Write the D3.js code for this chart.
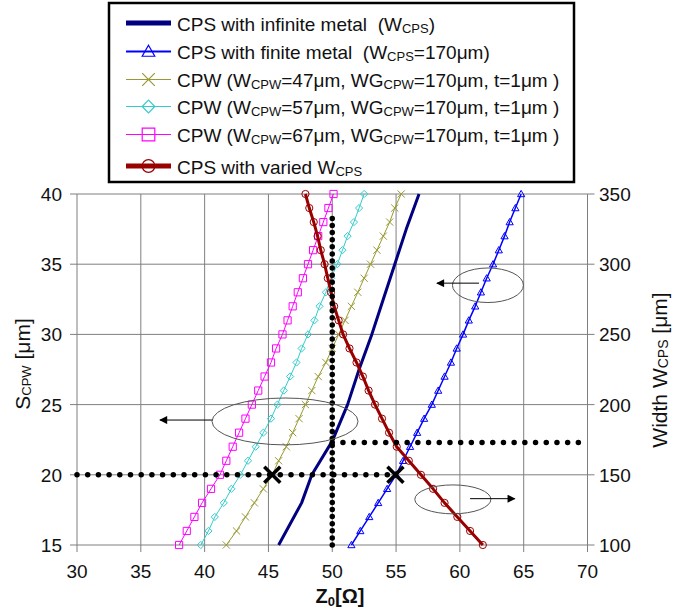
<!DOCTYPE html>
<html>
<head>
<meta charset="utf-8">
<script src="https://cdn.jsdelivr.net/npm/d3@7"></script>
<style>
  html, body { margin: 0; padding: 0; background: #fff; }
  svg { display: block; font-family: "Liberation Sans", Arial, sans-serif; }
</style>
</head>
<body>
<div id="chart"></div>
<script>
// S_CPW values (left axis) where the CPW / finite-metal curves were sampled
const sValues = d3.range(15, 41);

// Z0 [Ohm] for each series
const finiteMetalZ = [51.5, 52.2, 52.9, 53.6, 54.3, 55.0, 55.55, 56.1, 56.65, 57.2, 57.8, 58.3, 58.8,
  59.3, 59.75, 60.25, 60.7, 61.2, 61.65, 62.1, 62.6, 63.05, 63.5, 63.9, 64.35, 64.8];
const cpw47Z = [41.7, 42.5, 43.2, 43.9, 44.6, 45.3, 45.8, 46.4, 46.9, 47.4, 47.9, 48.4, 48.9,
  49.5, 50.0, 50.5, 51.0, 51.5, 52.0, 52.5, 53.0, 53.5, 54.0, 54.5, 54.9, 55.4];
const cpw57Z = [39.7, 40.3, 40.8, 41.5, 42.1, 42.8, 43.4, 44.0, 44.6, 45.2, 45.7, 46.2, 46.7,
  47.2, 47.6, 48.1, 48.6, 49.0, 49.5, 49.9, 50.4, 50.8, 51.2, 51.7, 52.1, 52.5];
const cpw67Z = [38.0, 38.6, 39.2, 39.8, 40.5, 41.2, 41.7, 42.2, 42.7, 43.2, 43.7, 44.2, 44.7,
  45.2, 45.6, 46.1, 46.5, 46.9, 47.3, 47.7, 48.1, 48.5, 48.9, 49.3, 49.7, 50.1];

// infinite metal curve (no markers)
const infiniteS = [15, 18, 20, 22.4, 25, 27.5, 30, 32.5, 35, 37.5, 40];
const infiniteZ = [45.8, 47.6, 48.4, 50.0, 51.2, 52.1, 53.1, 54.0, 54.9, 55.8, 56.8];

// varied W_CPS curve (right axis)
const widthValues = d3.range(100, 351, 10);
const variedZ = [61.8, 60.8, 59.8, 58.8, 57.9, 56.95, 56.0, 55.05, 54.45, 53.9, 53.35, 52.85, 52.4,
  51.9, 51.35, 50.85, 50.5, 50.15, 49.9, 49.65, 49.4, 49.1, 48.85, 48.55, 48.2, 47.9];

const xTicks = d3.range(30, 71, 5);
const yTicks = d3.range(15, 41, 5);
const y2Ticks = d3.range(100, 351, 50);

// dotted guide lines
const guideH1 = { z: [30, 55], s: 20 };
const guideV = { z: 50, s: [15, 38.5] };
const guideH2 = { z: [50, 69.3], w: 173 };
const crossPoints = [[45.3, 20], [54.95, 20]];

// ellipses + arrows: [centerZ, centerS, radiusZ, radiusS]
const ellipses = [[62.2, 33.5, 2.78, 1.23], [46.3, 23.8, 5.72, 1.67], [59.45, 18.25, 2.98, 1.03]];
const arrows = [[61.5, 58.2, 33.65], [40.6, 36.5, 23.9], [60.8, 64.3, 18.3]];

const width = 690, height = 612;
const svg = d3.select('#chart').append('svg').attr('width', width).attr('height', height);

const x = d3.scaleLinear().domain([30, 70]).range([77, 587.5]);
const y = d3.scaleLinear().domain([15, 40]).range([545, 194]);
const y2 = d3.scaleLinear().domain([100, 350]).range([545, 194]);

const gridColor = '#7f7f7f';

// grid
svg.append('g').selectAll('line.vgrid').data(xTicks).join('line')
  .attr('x1', d => x(d)).attr('x2', d => x(d)).attr('y1', y(40)).attr('y2', y(15) + 7)
  .attr('stroke', gridColor).attr('stroke-width', 1);
svg.append('g').selectAll('line.hgrid').data(yTicks).join('line')
  .attr('x1', x(30) - 7).attr('x2', x(70) + 7).attr('y1', d => y(d)).attr('y2', d => y(d))
  .attr('stroke', gridColor).attr('stroke-width', 1);

// tick labels
svg.append('g').selectAll('text').data(xTicks).join('text')
  .attr('x', d => x(d)).attr('y', 578).attr('text-anchor', 'middle')
  .attr('font-size', 19).attr('fill', '#111').text(d => d);
svg.append('g').selectAll('text').data(yTicks).join('text')
  .attr('x', 62).attr('y', d => y(d) + 7).attr('text-anchor', 'end')
  .attr('font-size', 19).attr('fill', '#111').text(d => d);
svg.append('g').selectAll('text').data(y2Ticks).join('text')
  .attr('x', 599).attr('y', d => y2(d) + 7).attr('text-anchor', 'start')
  .attr('font-size', 19).attr('fill', '#111').text(d => d);

// axis titles
const leftTitle = svg.append('text').attr('transform', 'translate(30,364) rotate(-90)')
  .attr('text-anchor', 'middle').attr('font-size', 21).attr('fill', '#111');
leftTitle.append('tspan').text('S');
leftTitle.append('tspan').attr('font-size', 13).attr('dy', 1).text('CPW');
leftTitle.append('tspan').attr('dy', -1).text(' [μm]');

const rightTitle = svg.append('text').attr('transform', 'translate(667,370) rotate(-90)')
  .attr('text-anchor', 'middle').attr('font-size', 21).attr('fill', '#111');
rightTitle.append('tspan').text('Width W');
rightTitle.append('tspan').attr('font-size', 14).attr('dy', 1).text('CPS');
rightTitle.append('tspan').attr('dy', -1).text(' [μm]');

const xTitle = svg.append('text').attr('x', 340).attr('y', 603).attr('text-anchor', 'middle')
  .attr('font-size', 20).attr('font-weight', 'bold').attr('fill', '#111');
xTitle.append('tspan').text('Z');
xTitle.append('tspan').attr('font-size', 13).attr('dy', 3).text('0');
xTitle.append('tspan').attr('dy', -3).text('[Ω]');

// marker shapes
function markerPath(type, s) {
  if (type === 'triangle') return `M0,${-s}L${s},${s * 0.75}L${-s},${s * 0.75}Z`;
  if (type === 'diamond') return `M0,${-s}L${s},0L0,${s}L${-s},0Z`;
  if (type === 'square') return `M${-s},${-s}H${s}V${s}H${-s}Z`;
  if (type === 'x') return `M${-s},${-s}L${s},${s}M${-s},${s}L${s},${-s}`;
  if (type === 'circle') return d3.symbol(d3.symbolCircle, Math.PI * s * s)();
  return null;
}

const series = [
  { label: 'infinite', color: '#000080', width: 3, marker: null, pts: infiniteS.map((s, i) => [infiniteZ[i], y(s)]) },
  { label: 'finite', color: '#0000ff', width: 1.5, marker: 'triangle', pts: sValues.map((s, i) => [finiteMetalZ[i], y(s)]) },
  { label: 'cpw47', color: '#999933', width: 1, marker: 'x', pts: sValues.map((s, i) => [cpw47Z[i], y(s)]) },
  { label: 'cpw57', color: '#33cccc', width: 1, marker: 'diamond', pts: sValues.map((s, i) => [cpw57Z[i], y(s)]) },
  { label: 'cpw67', color: '#ff00ff', width: 1, marker: 'square', pts: sValues.map((s, i) => [cpw67Z[i], y(s)]) },
  { label: 'varied', color: '#990000', width: 3, marker: 'circle', pts: widthValues.map((w, i) => [variedZ[i], y2(w)]) }
];

const line = d3.line().x(d => x(d[0])).y(d => d[1]);

const plot = svg.append('g');
series.forEach(sr => {
  const g = plot.append('g').attr('class', `series ${sr.label}`);
  g.append('path').datum(sr.pts).attr('d', line)
    .attr('fill', 'none').attr('stroke', sr.color).attr('stroke-width', sr.width)
    .attr('stroke-linejoin', 'round');
  if (sr.marker) {
    g.selectAll('path.marker').data(sr.pts).join('path')
      .attr('class', 'marker')
      .attr('transform', d => `translate(${x(d[0])},${d[1]})`)
      .attr('d', markerPath(sr.marker, 3.6))
      .attr('fill', 'none').attr('stroke', sr.color).attr('stroke-width', 1);
  }
});

// dotted guides
const dotted = svg.append('g').attr('stroke', '#000').attr('stroke-linecap', 'round').attr('stroke-width', 5.5);
dotted.append('line').attr('x1', x(guideH1.z[0])).attr('x2', x(guideH1.z[1]))
  .attr('y1', y(guideH1.s)).attr('y2', y(guideH1.s)).attr('stroke-dasharray', '0,10.7');
dotted.append('line').attr('x1', x(guideV.z)).attr('x2', x(guideV.z))
  .attr('y1', y(guideV.s[0])).attr('y2', y(guideV.s[1])).attr('stroke-dasharray', '0,7.1');
dotted.append('line').attr('x1', x(guideH2.z[0])).attr('x2', x(guideH2.z[1]))
  .attr('y1', y2(guideH2.w)).attr('y2', y2(guideH2.w)).attr('stroke-dasharray', '0,10.7');

// crosses
svg.append('g').selectAll('path').data(crossPoints).join('path')
  .attr('transform', d => `translate(${x(d[0])},${y(d[1])})`)
  .attr('d', markerPath('x', 8)).attr('stroke', '#000').attr('stroke-width', 3.5).attr('fill', 'none');

// ellipses and arrows
svg.append('g').selectAll('ellipse').data(ellipses).join('ellipse')
  .attr('cx', d => x(d[0])).attr('cy', d => y(d[1]))
  .attr('rx', d => x(d[0] + d[2]) - x(d[0])).attr('ry', d => y(d[1]) - y(d[1] + d[3]))
  .attr('fill', 'none').attr('stroke', '#555').attr('stroke-width', 1);

svg.append('defs').append('marker').attr('id', 'head')
  .attr('viewBox', '0 0 10 10').attr('refX', 9).attr('refY', 5)
  .attr('markerWidth', 9).attr('markerHeight', 8).attr('markerUnits', 'userSpaceOnUse')
  .attr('orient', 'auto')
  .append('path').attr('d', 'M0,0L10,5L0,10Z').attr('fill', '#000');

svg.append('g').selectAll('line').data(arrows).join('line')
  .attr('x1', d => x(d[0])).attr('x2', d => x(d[1]))
  .attr('y1', d => y(d[2])).attr('y2', d => y(d[2]))
  .attr('stroke', '#000').attr('stroke-width', 1).attr('marker-end', 'url(#head)');

// legend
const legend = svg.append('g');
legend.append('rect').attr('x', 109).attr('y', 3).attr('width', 465).attr('height', 179)
  .attr('fill', '#fff').attr('stroke', '#000').attr('stroke-width', 2.5);

const legendRows = [
  { parts: [['CPS with infinite metal  (W'], ['CPS', 1], [')']], baseline: 30.5 },
  { parts: [['CPS with finite metal  (W'], ['CPS', 1], ['=170μm)']], baseline: 59 },
  { parts: [['CPW (W'], ['CPW', 1], ['=47μm, WG'], ['CPW', 1], ['=170μm, t=1μm )']], baseline: 87 },
  { parts: [['CPW (W'], ['CPW', 1], ['=57μm, WG'], ['CPW', 1], ['=170μm, t=1μm )']], baseline: 114 },
  { parts: [['CPW (W'], ['CPW', 1], ['=67μm, WG'], ['CPW', 1], ['=170μm, t=1μm )']], baseline: 142 },
  { parts: [['CPS with varied W'], ['CPS', 1]], baseline: 173.5 }
];

legendRows.forEach((row, i) => {
  const sr = series[i];
  const cy = row.baseline - 7.5;
  legend.append('line').attr('x1', 126).attr('x2', 171).attr('y1', cy).attr('y2', cy)
    .attr('stroke', sr.color).attr('stroke-width', sr.width === 3 ? 5 : (sr.width > 1 ? 2 : 1.2));
  if (sr.marker) {
    legend.append('path').attr('transform', `translate(148.5,${cy})`)
      .attr('d', markerPath(sr.marker, 6.3))
      .attr('fill', 'none').attr('stroke', sr.color).attr('stroke-width', 1.2);
  }
  const t = legend.append('text').attr('x', 177).attr('y', row.baseline)
    .attr('font-size', 19).attr('fill', '#111').attr('xml:space', 'preserve');
  row.parts.forEach(p => {
    const ts = t.append('tspan').text(p[0]);
    if (p[1]) ts.attr('font-size', 13).attr('dy', 2);
    else if (t.selectAll('tspan').size() > 1) ts.attr('dy', -2);
  });
});
</script>
</body>
</html>
